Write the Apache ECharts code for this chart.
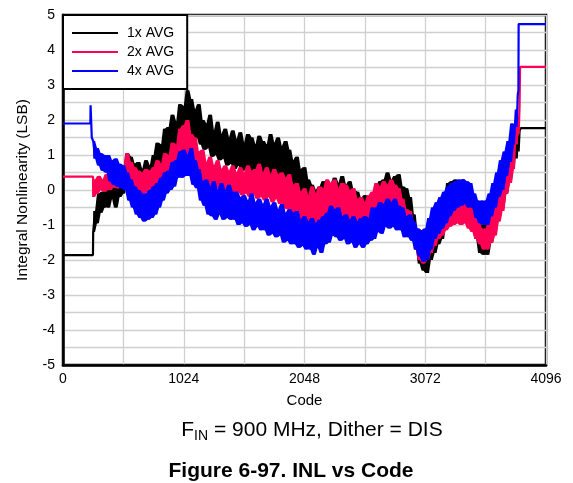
<!DOCTYPE html>
<html>
<head>
<meta charset="utf-8">
<script src="https://cdn.jsdelivr.net/npm/echarts@6/dist/echarts.min.js"></script>
<style>
html,body{margin:0;padding:0;background:#fff;}
#chart{width:573px;height:483px;}
</style>
</head>
<body>
<div id="chart"></div>
<script>
// ---- data ----
const seriesNames = ['1x AVG', '2x AVG', '4x AVG'];
const xTicks = [0, 1024, 2048, 3072, 4096];
const yTicks = [-5, -4, -3, -2, -1, 0, 1, 2, 3, 4, 5];
const codeStart = 256, codeStep = 16;

const avg1Lead = [[0, -1.86], [254, -1.86]];
const avg1Noise = [
  -1.2, -0.6, -0.95, -0.1, -0.65, -0.05, -0.5, 0.15,
  -0.5, 0.2, -0.25, 0.05, -0.5, 0.15, -0.2, 0.45,
  -0.1, 0.6, 1.05, 0.35, 0.95, 0.3, 0.75, 0.2,
  0.8, 0.2, 0.6, 0.25, 0.85, 0.3, 0.7, 0.3,
  1.0, 0.4, 1.35, 0.55, 1.3, 0.8, 1.75, 0.9,
  1.8, 1.05, 2.15, 1.15, 1.95, 1.35, 2.45, 1.4,
  2.4, 1.6, 2.85, 1.65, 2.6, 1.45, 2.3, 1.5,
  2.45, 1.3, 2.0, 1.15, 1.9, 1.2, 2.15, 0.95,
  1.7, 1.0, 1.95, 0.85, 1.6, 0.9, 1.75, 0.7,
  1.5, 0.75, 1.7, 0.6, 1.45, 0.7, 1.65, 0.55,
  1.35, 0.6, 1.6, 0.5, 1.5, 0.55, 1.3, 0.5,
  1.55, 0.4, 1.4, 0.55, 1.3, 0.45, 1.6, 0.4,
  1.35, 0.4, 1.5, 0.3, 1.25, 0.35, 1.4, 0.25,
  1.15, 0.2, 0.85, 0.05, 0.95, -0.1, 0.6, -0.15,
  0.65, -0.3, 0.3, -0.45, 0.15, -0.4, 0.0, -0.5,
  0.1, -0.45, 0.25, -0.5, 0.05, -0.35, 0.2, -0.5,
  0.35, -0.4, 0.2, -0.55, 0.4, -0.4, 0.15, -0.6,
  0.25, -0.65, 0.0, -0.75, -0.05, -0.95, -0.25, -0.95,
  -0.15, -1.0, -0.25, -0.8, -0.1, -0.75, 0.05, -0.55,
  0.25, -0.65, 0.3, -0.45, 0.5, -0.45, 0.3, -0.35,
  0.4, -0.45, 0.45, -0.55, 0.1, -0.75, 0.05, -0.95,
  -0.2, -1.2, -0.7, -1.6, -1.3, -2.1, -1.4, -2.3,
  -1.5, -2.37, -1.3, -2.0, -1.0, -1.8, -0.8, -1.55,
  -0.7, -1.4, -0.3, -1.0, 0.2, -0.75, 0.25, -0.6,
  0.3, -0.55, 0.2, -0.6, 0.3, -0.65, 0.1, -0.8,
  -0.2, -1.0, -0.5, -1.4, -0.9, -1.8, -1.0, -1.85,
  -1.0, -1.85, -0.8, -1.5, -0.6, -1.2, -0.2, -0.8,
  0.2, -0.5, 0.5, -0.1, 1.0, 0.3, 1.3, 0.7
];
const avg1Tail = [[3840, 1.4], [3848, 0.9], [3856, 1.55], [3864, 1.1], [3872, 1.7], [3884, 1.77], [4096, 1.77]];

const avg2Lead = [[0, 0.38], [255, 0.38]];
const avg2Noise = [
  -0.2, 0.3, -0.1, 0.4, 0.0, 0.3, -0.05, 0.45,
  0.4, 0.0, 0.45, 0.1, 0.5, 0.05, 0.45, 0.15,
  0.6, 0.3, 1.05, 0.4, 0.8, 0.1, 0.65, -0.05,
  0.55, -0.1, 0.5, -0.1, 0.6, 0.0, 0.55, 0.05,
  0.65, 0.15, 0.85, 0.2, 0.75, 0.3, 1.05, 0.25,
  1.0, 0.4, 1.35, 0.45, 1.3, 0.65, 1.75, 0.7,
  1.85, 0.85, 2.0, 0.65, 1.6, 0.55, 1.5, 0.35,
  1.1, 0.35, 1.15, 0.15, 0.8, 0.2, 0.95, 0.05,
  0.7, 0.15, 0.85, 0.0, 0.6, 0.05, 0.7, -0.05,
  0.55, 0.05, 0.7, -0.1, 0.5, -0.05, 0.65, -0.15,
  0.5, -0.1, 0.7, -0.2, 0.55, -0.1, 0.6, -0.25,
  0.75, -0.2, 0.5, -0.3, 0.65, -0.2, 0.45, -0.35,
  0.6, -0.25, 0.45, -0.4, 0.5, -0.5, 0.35, -0.55,
  0.45, -0.6, 0.15, -0.75, 0.2, -0.8, -0.05, -0.95,
  0.05, -0.85, -0.15, -1.05, 0.1, -1.0, -0.1, -0.95,
  0.1, -1.0, 0.05, -0.85, 0.3, -0.95, 0.2, -0.85,
  0.3, -0.95, 0.05, -0.8, 0.2, -0.9, 0.15, -0.85,
  0.0, -0.85, 0.05, -1.05, -0.25, -1.05, -0.2, -1.2,
  -0.35, -1.1, -0.15, -0.95, -0.05, -0.85, 0.2, -0.7,
  0.1, -0.75, 0.25, -0.8, 0.15, -0.7, 0.3, -0.85,
  0.15, -0.75, 0.05, -1.0, -0.25, -1.05, -0.55, -1.3,
  -0.6, -1.3, -1.0, -1.7, -1.2, -2.0, -1.3, -2.1,
  -1.3, -2.0, -1.1, -1.8, -0.9, -1.6, -0.7, -1.4,
  -0.6, -1.3, -0.5, -1.15, -0.4, -1.05, -0.3, -1.0,
  -0.3, -0.95, -0.25, -1.0, -0.3, -0.95, -0.4, -1.1,
  -0.5, -1.2, -0.7, -1.4, -0.9, -1.55, -1.1, -1.7,
  -1.1, -1.7, -0.9, -1.5, -0.6, -1.3, -0.3, -0.9,
  0.2, -0.6, 0.5, -0.1, 0.9, 0.2, 1.3, 0.6
];
const avg2Tail = [[3840, 1.9], [3848, 1.3], [3856, 2.1], [3864, 1.6], [3872, 2.4], [3876, 3.52], [4096, 3.52]];

const avg4Lead = [[0, 1.9], [232, 1.9], [234, 2.42], [244, 1.5]];
const avg4Noise = [
  1.4, 0.9, 1.2, 0.7, 1.05, 0.55, 1.0, 0.5,
  1.0, 0.25, 0.85, 0.15, 0.9, 0.1, 0.75, 0.05,
  0.7, 0.0, 0.5, -0.3, 0.3, -0.5, 0.1, -0.7,
  0.0, -0.8, -0.1, -0.9, -0.1, -0.85, 0.0, -0.8,
  0.1, -0.7, 0.2, -0.5, 0.35, -0.3, 0.5, -0.1,
  0.55, 0.0, 0.8, 0.1, 0.85, 0.35, 1.1, 0.35,
  1.15, 0.4, 1.0, 0.4, 1.2, 0.15, 0.85, 0.05,
  0.6, -0.3, 0.25, -0.45, 0.3, -0.7, 0.1, -0.75,
  0.25, -0.85, 0.0, -0.7, 0.2, -0.85, 0.0, -0.8,
  0.15, -0.85, -0.05, -0.85, -0.05, -1.0, -0.2, -0.95,
  -0.15, -1.05, -0.3, -1.0, -0.1, -1.15, -0.35, -1.05,
  -0.25, -1.15, -0.4, -1.15, -0.25, -1.3, -0.45, -1.25,
  -0.35, -1.35, -0.55, -1.3, -0.4, -1.5, -0.65, -1.45,
  -0.55, -1.55, -0.65, -1.55, -0.6, -1.65, -0.85, -1.6,
  -0.75, -1.7, -0.9, -1.7, -0.8, -1.85, -0.95, -1.65,
  -0.85, -1.8, -0.75, -1.55, -0.65, -1.5, -0.45, -1.3,
  -0.55, -1.35, -0.5, -1.45, -0.75, -1.4, -0.7, -1.55,
  -0.85, -1.5, -0.75, -1.65, -0.9, -1.55, -0.8, -1.65,
  -0.75, -1.55, -0.8, -1.45, -0.5, -1.4, -0.5, -1.2,
  -0.35, -1.25, -0.4, -1.05, -0.25, -1.1, -0.35, -1.05,
  -0.25, -1.15, -0.45, -1.15, -0.5, -1.35, -0.75, -1.35,
  -0.7, -1.45, -0.9, -1.7, -1.1, -1.9, -1.15, -2.05,
  -1.1, -2.0, -0.8, -1.7, -0.5, -1.4, -0.35, -1.25,
  -0.2, -1.1, -0.05, -0.95, 0.1, -0.75, 0.2, -0.6,
  0.25, -0.5, 0.3, -0.45, 0.3, -0.4, 0.25, -0.5,
  0.2, -0.5, -0.1, -0.8, -0.3, -0.95, -0.3, -1.0,
  -0.3, -1.0, -0.1, -0.75, 0.2, -0.5, 0.5, -0.2,
  0.85, 0.0, 1.1, 0.4, 1.4, 0.8, 1.9, 1.3
];
const avg4Tail = [[3840, 2.3], [3848, 1.8], [3856, 2.7], [3862, 2.85], [3864, 4.74], [4096, 4.74]];

const seriesColors = ['#000000', '#ff0055', '#0000ff'];

// ---- build ----
function build(lead, noise, tail) {
  return lead.concat(noise.map((v, i) => [codeStart + i * codeStep, v])).concat(tail);
}
// envelope of the area the noisy trace sweeps (min/max of each point and its neighbours)
function envelope(noise, useMax) {
  return noise.map((v, i) => {
    const a = noise[Math.max(0, i - 1)], b = noise[Math.min(noise.length - 1, i + 1)];
    return [codeStart + i * codeStep, useMax ? Math.max(a, v, b) : Math.min(a, v, b)];
  });
}
const noises = [avg1Noise, avg2Noise, avg4Noise];
const allData = [
  build(avg1Lead, avg1Noise, avg1Tail),
  build(avg2Lead, avg2Noise, avg2Tail),
  build(avg4Lead, avg4Noise, avg4Tail)
];

const FONT = 'Liberation Sans, Arial, sans-serif';
const gridLine = { color: '#d0d0d0', width: 1.3 };

const series = [];
seriesNames.forEach((name, i) => {
  const upper = envelope(noises[i], true);
  const lower = envelope(noises[i], false);
  series.push({
    name: 'band' + i, type: 'custom', coordinateSystem: 'cartesian2d',
    data: [[codeStart, 0]], silent: true, z: 2 + 2 * i,
    renderItem: function (params, api) {
      const pts = upper.map(p => api.coord(p)).concat(lower.slice().reverse().map(p => api.coord(p)));
      return { type: 'polygon', shape: { points: pts }, style: { fill: seriesColors[i], stroke: null } };
    }
  });
  series.push({
    name: name, type: 'line', data: allData[i],
    showSymbol: false, symbol: 'none',
    color: seriesColors[i],
    lineStyle: { color: seriesColors[i], width: 2.2 },
    z: 3 + 2 * i
  });
});

const chart = echarts.init(document.getElementById('chart'), null, { renderer: 'canvas' });
chart.setOption({
  animation: false,
  backgroundColor: '#ffffff',
  textStyle: { fontFamily: FONT },
  title: [
    {
      text: '{a|F}{b|IN}{a| = 900 MHz, Dither = DIS}',
      left: 307, top: 412, textAlign: 'center',
      textStyle: {
        fontWeight: 'normal',
        rich: {
          a: { fontSize: 21, fontWeight: 'normal', fontFamily: FONT, color: '#000', lineHeight: 26, verticalAlign: 'middle' },
          b: { fontSize: 14, fontWeight: 'normal', fontFamily: FONT, color: '#000', lineHeight: 12, verticalAlign: 'bottom' }
        }
      }
    },
    {
      text: 'Figure 6-97. INL vs Code',
      left: 286, top: 454, textAlign: 'center',
      textStyle: { fontSize: 21, lineHeight: 24, fontWeight: 'bold', fontFamily: FONT, color: '#000' }
    }
  ],
  legend: {
    data: seriesNames,
    orient: 'vertical',
    left: 63, top: 15,
    icon: 'rect',
    itemWidth: 46, itemHeight: 2,
    itemGap: 5,
    padding: [11, 13, 11, 9],
    backgroundColor: '#ffffff',
    borderColor: '#000000',
    borderWidth: 2,
    borderRadius: 0,
    z: 20,
    textStyle: { fontSize: 14, color: '#000', fontFamily: FONT, padding: [0, 0, 0, 4] }
  },
  grid: {
    left: 63, right: 27, top: 15, bottom: 118,
    show: true, borderColor: '#000', borderWidth: 2.5,
    containLabel: false
  },
  xAxis: {
    type: 'value',
    min: xTicks[0], max: xTicks[xTicks.length - 1], interval: 1024,
    name: 'Code', nameLocation: 'middle', nameGap: 28,
    nameTextStyle: { fontSize: 15, color: '#000', fontFamily: FONT },
    axisLine: { show: true, onZero: false, lineStyle: { color: '#000', width: 2.5 } },
    axisTick: { show: false },
    axisLabel: { fontSize: 14, color: '#000', margin: 7, fontFamily: FONT, formatter: v => String(v) },
    splitLine: { show: true, lineStyle: gridLine },
    minorTick: { show: false, splitNumber: 2 },
    minorSplitLine: { show: true, lineStyle: gridLine }
  },
  yAxis: {
    type: 'value',
    min: yTicks[0], max: yTicks[yTicks.length - 1], interval: 1,
    name: 'Integral Nonlinearity (LSB)', nameLocation: 'middle', nameGap: 32,
    nameTextStyle: { fontSize: 15.5, color: '#000', fontFamily: FONT },
    axisLine: { show: true, onZero: false, lineStyle: { color: '#000', width: 2.5 } },
    axisTick: { show: false },
    axisLabel: { fontSize: 14, color: '#000', margin: 8, fontFamily: FONT, formatter: v => String(v) },
    splitLine: { show: true, lineStyle: gridLine },
    minorTick: { show: false, splitNumber: 2 },
    minorSplitLine: { show: true, lineStyle: gridLine }
  },
  series: series
});
</script>
</body>
</html>
